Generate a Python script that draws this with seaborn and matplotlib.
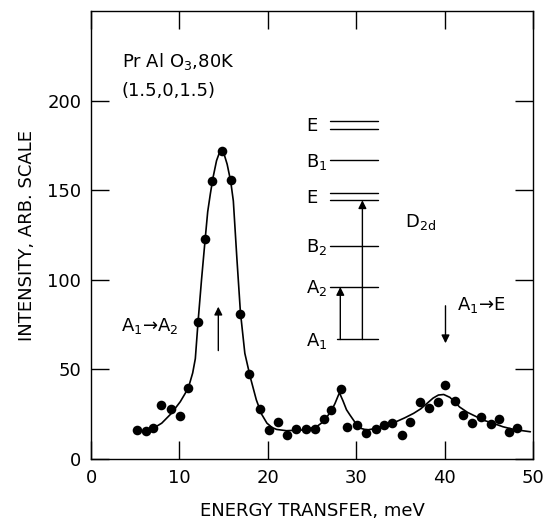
import matplotlib
matplotlib.use("Agg")
import matplotlib.pyplot as plt
import seaborn as sns
import pandas as pd

# measured points
energy = [5.2, 6.2, 7.0, 7.9, 9.0, 10.1, 11.0, 12.1, 12.9, 13.7, 14.8, 15.8, 16.9, 17.9,
          19.1, 20.1, 21.1, 22.2, 23.2, 24.3, 25.3, 26.3, 27.1, 28.3, 29.0, 30.1, 31.1,
          32.2, 33.2, 34.1, 35.2, 36.1, 37.2, 38.2, 39.2, 40.1, 41.2, 42.1, 43.1, 44.1,
          45.2, 46.2, 47.3, 48.2]
intensity = [16.2, 15.8, 17.4, 30.1, 27.7, 24.1, 39.4, 76.7, 122.7, 155.0, 171.8, 155.8,
             81.2, 47.3, 27.8, 16.0, 20.4, 13.3, 16.9, 16.7, 16.5, 22.2, 27.1, 39.2, 17.8,
             18.8, 14.3, 16.6, 19.0, 19.9, 13.5, 20.8, 31.8, 28.6, 31.9, 41.2, 32.5, 24.5,
             20.2, 23.6, 19.3, 22.3, 14.9, 17.1]

# fitted curve
fit_energy = [7.0, 8.0, 9.1, 10.1, 11.0, 11.5, 11.8, 12.1, 12.5, 12.9, 13.2, 13.5, 13.8,
              14.2, 14.6, 15.0, 15.4, 15.8, 16.1, 16.5, 16.9, 17.4, 18.0, 18.7, 19.3,
              19.9, 20.5, 21.0, 22.1, 24.0, 25.5, 26.2, 26.7, 27.2, 27.6, 28.1, 28.5,
              28.9, 29.3, 30.0, 30.6, 31.2, 32.3, 33.8, 34.6, 35.5, 36.5, 37.3, 38.0,
              38.7, 39.3, 39.9, 40.6, 41.2, 41.7, 42.6, 43.6, 44.5, 45.5, 46.6, 47.8, 49.7]
fit_intensity = [17.0, 20.0, 25.5, 32.0, 39.5, 48.0, 56.0, 76.0, 100.0, 122.0, 138.0,
                 148.0, 157.0, 166.5, 172.0, 171.0, 164.5, 155.0, 144.0, 112.0, 82.0,
                 59.0, 46.0, 33.0, 25.0, 20.0, 17.5, 16.5, 15.8, 16.2, 18.0, 20.5, 23.6,
                 27.0, 31.0, 37.0, 32.5, 27.5, 24.5, 19.5, 17.0, 16.2, 17.1, 19.9, 21.0,
                 23.0, 25.5, 28.0, 31.0, 34.0, 35.7, 36.0, 34.4, 31.5, 29.0, 26.0, 23.6,
                 21.5, 19.9, 18.0, 16.5, 15.2]

# level scheme (D2d)
level_labels = ["E", "B$_1$", "E", "B$_2$", "A$_2$", "A$_1$"]
level_values = [186.4, 166.6, 146.5, 119.0, 96.0, 66.7]
level_double = [True, False, True, False, False, False]

x_ticks = [0, 10, 20, 30, 40, 50]
y_ticks = [0, 50, 100, 150, 200]

sns.set_theme(style="ticks")
plt.rcParams["font.family"] = ["DejaVu Sans"]
plt.rcParams["mathtext.default"] = "regular"
plt.rcParams["text.color"] = "black"
plt.rcParams["axes.labelcolor"] = "black"
plt.rcParams["xtick.color"] = "black"
plt.rcParams["ytick.color"] = "black"

fig = plt.figure(figsize=(5.46, 5.25), dpi=100)
ax = fig.add_axes([0.1667, 0.1257, 0.8095, 0.8533])

pts = pd.DataFrame({"energy": energy, "intensity": intensity})
fit = pd.DataFrame({"energy": fit_energy, "intensity": fit_intensity})

sns.lineplot(data=fit, x="energy", y="intensity", sort=False, estimator=None,
             color="black", linewidth=1.2, ax=ax)
sns.scatterplot(data=pts, x="energy", y="intensity", color="black", s=48,
                edgecolor="black", linewidth=0, ax=ax, zorder=3)

ax.set_xlim(0, 50)
ax.set_ylim(0, 250)
ax.set_xticks(x_ticks)
ax.set_yticks(y_ticks)
ax.tick_params(direction="in", length=13, width=1, labelsize=13, pad=7,
               top=True, right=True, colors="black", labelcolor="black")
for s in ax.spines.values():
    s.set_visible(True)
    s.set_linewidth(1.0)
    s.set_color("black")

ax.set_xlabel("ENERGY TRANSFER, meV", fontsize=13, labelpad=11, color="black")
ax.set_ylabel("INTENSITY, ARB. SCALE", fontsize=13, labelpad=8, color="black")

fs = 13
half_cap = 3.6
ax.text(3.5, 222.6 - half_cap, "Pr Al O$_3$,80K", fontsize=fs, va="baseline", ha="left")
ax.text(3.5, 205.6, "(1.5,0,1.5)", fontsize=fs, va="center", ha="left")

# transitions
ax.text(3.4, 75.2 - half_cap, "A$_1$\u2192A$_2$", fontsize=fs, va="baseline", ha="left")
ax.annotate("", xy=(14.4, 85), xytext=(14.4, 60.5),
            arrowprops=dict(arrowstyle="-|>", color="black", lw=1.0,
                            mutation_scale=12, shrinkA=0, shrinkB=0))
ax.text(41.4, 86.6 - half_cap, "A$_1$\u2192E", fontsize=fs, va="baseline", ha="left")
ax.annotate("", xy=(40.1, 64.6), xytext=(40.1, 85.5),
            arrowprops=dict(arrowstyle="-|>", color="black", lw=1.0,
                            mutation_scale=12, shrinkA=0, shrinkB=0))

# level diagram
for lab, val, dbl in zip(level_labels, level_values, level_double):
    if dbl:
        ax.plot([27.0, 32.5], [val + 2.1, val + 2.1], color="black", lw=1.0)
        ax.plot([27.0, 32.5], [val - 2.1, val - 2.1], color="black", lw=1.0)
    else:
        x0 = 27.8 if lab == "A$_1$" else 27.0
        ax.plot([x0, 32.5], [val, val], color="black", lw=1.0)
    ax.text(24.3, val - half_cap, lab, fontsize=fs, va="baseline", ha="left")

ax.annotate("", xy=(28.2, level_values[4]), xytext=(28.2, level_values[5]),
            arrowprops=dict(arrowstyle="-|>", color="black", lw=1.0,
                            mutation_scale=12, shrinkA=0, shrinkB=0))
ax.annotate("", xy=(30.7, level_values[2] - 2.1), xytext=(30.7, level_values[5]),
            arrowprops=dict(arrowstyle="-|>", color="black", lw=1.0,
                            mutation_scale=12, shrinkA=0, shrinkB=0))
ax.text(35.5, 133 - half_cap, "D$_{2d}$", fontsize=fs, va="baseline", ha="left")

fig.savefig("out.png", dpi=100)
